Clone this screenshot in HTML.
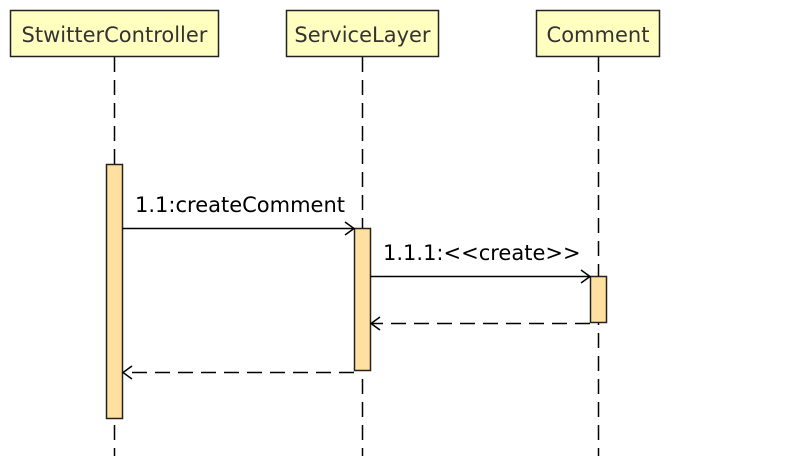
<!DOCTYPE html>
<html><head><meta charset="utf-8"><style>
html,body{margin:0;padding:0;background:#fff;}
svg{display:block;}
text{font-family:"DejaVu Sans","Liberation Sans",sans-serif;font-size:21px;}
</style></head><body>
<svg width="794" height="456" viewBox="0 0 794 456" xmlns="http://www.w3.org/2000/svg">
<g stroke="#000" stroke-width="1.5" stroke-dasharray="15,8" fill="none">
<line x1="114.5" y1="57" x2="114.5" y2="456"/>
<line x1="362.5" y1="57" x2="362.5" y2="456"/>
<line x1="598.5" y1="57" x2="598.5" y2="456"/>
</g>
<g stroke="#222" stroke-width="1.5" fill="#ffffc0">
<rect x="10.5" y="10.5" width="208" height="46"/>
<rect x="286.5" y="10.5" width="152" height="46"/>
<rect x="536.5" y="10.5" width="123" height="46"/>
</g>
<g fill="#333" text-anchor="middle">
<text x="114.5" y="42">StwitterController</text>
<text x="362.5" y="42">ServiceLayer</text>
<text x="598" y="42">Comment</text>
</g>
<g stroke="#222" stroke-width="1.5" fill="#ffe0a0">
<rect x="106.5" y="164.5" width="16" height="254"/>
<rect x="354.5" y="228.5" width="16" height="142"/>
<rect x="590.5" y="276.5" width="16" height="46"/>
</g>
<g stroke="#000" stroke-width="1.5" fill="none">
<line x1="122" y1="228.5" x2="354" y2="228.5"/>
<polyline points="345,222 354,228.5 345,235"/>
<line x1="370" y1="276.5" x2="590" y2="276.5"/>
<polyline points="581,270 590,276.5 581,283"/>
<line x1="590" y1="323.5" x2="371" y2="323.5" stroke-dasharray="15,8"/>
<polyline points="380,317 371,323.5 380,330"/>
<line x1="354" y1="372.5" x2="123" y2="372.5" stroke-dasharray="15,8"/>
<polyline points="132,366 123,372.5 132,379"/>
</g>
<g fill="#000">
<text x="135" y="212">1.1:createComment</text>
<text x="383" y="260">1.1.1:&lt;&lt;create&gt;&gt;</text>
</g>
</svg>
</body></html>
